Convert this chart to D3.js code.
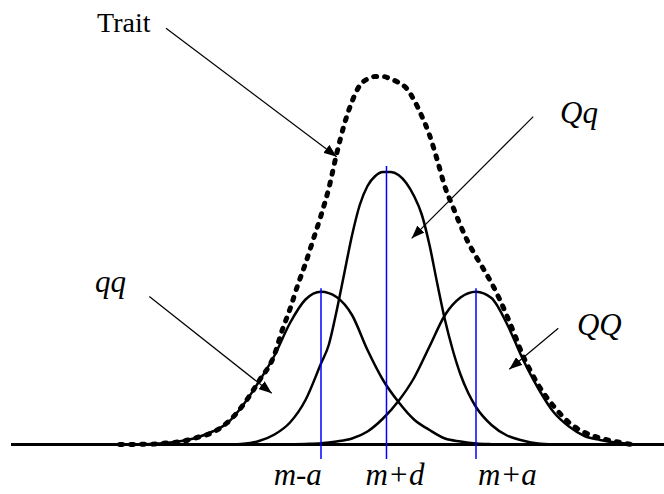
<!DOCTYPE html>
<html>
<head>
<meta charset="utf-8">
<script src="https://cdn.jsdelivr.net/npm/d3@7"></script>
<style>
  body { margin: 0; background: #fff; }
  text { font-family: "Liberation Serif", "Times New Roman", serif; fill: #000; }
  .curve { fill: none; stroke: #000; stroke-width: 2.5; }
  .trait { fill: none; stroke: #000; stroke-width: 5; stroke-dasharray: 3,8; stroke-linecap: round; }
  .mean { stroke: #0000ff; stroke-width: 1.5; }
  .arrow { stroke: #000; stroke-width: 1.2; }
</style>
</head>
<body>
<script>
// size of the picture
var width = 664,
    height = 494;

// genotype curves (x = trait value, y = frequency)
var qqX = [14, 16, 18, 20, 22, 24, 26, 28, 30, 32, 34, 36, 38, 40, 42, 44, 46, 48, 50, 52, 54, 56, 58, 60, 62, 64];
var qqY = [0, 0.01, 0.05, 0.15, 0.35, 0.7, 1.3, 2.2, 4.0, 6.3, 8.9, 12.15, 14.5, 15.28, 14.75, 12.95, 9.45, 6.45, 4.25, 2.5, 1.45, 0.6, 0.3, 0.1, 0.03, 0];

var QqX = [28, 30, 32, 34, 36, 38, 40, 41, 42, 43, 44, 45, 46, 47, 48, 49, 50, 51, 52, 53, 54, 55, 56, 57, 58, 59, 60, 62, 64, 66, 68, 70, 72];
var QqY = [0, 0.07, 0.35, 1.0, 2.2, 4.45, 8.1, 9.95, 13.3, 17.1, 20.9, 23.95, 25.85, 26.85, 27.25, 27.25, 26.95, 26.15, 24.85, 23.0, 19.95, 16.1, 12.45, 9.45, 7.0, 5.15, 3.75, 1.95, 0.9, 0.4, 0.1, 0.02, 0];

var QQX = [36, 38, 40, 42, 44, 46, 48, 50, 52, 54, 56, 58, 60, 62, 64, 66, 68, 70, 72, 74, 76, 78, 80, 82];
var QQY = [0, 0.05, 0.12, 0.3, 0.6, 1.3, 2.6, 4.35, 6.65, 9.8, 12.95, 14.7, 15.28, 14.65, 12.05, 8.6, 5.65, 3.25, 1.8, 0.85, 0.45, 0.2, 0.05, 0];

// the whole trait (dotted)
var traitX = [14, 16, 18, 20, 22, 24, 26, 28, 30, 32, 34, 35, 36, 37, 38, 39, 40, 41, 42, 43, 44, 45, 46, 47, 48, 49, 50, 51, 52, 53, 54, 55, 56, 57, 58, 59, 60, 61, 62, 63, 64, 65, 66, 67, 68, 70, 72, 74, 76, 78, 80];
var traitY = [0, 0.01, 0.03, 0.15, 0.3, 0.7, 1.2, 2.25, 4.0, 6.35, 9.0, 11.45, 13.55, 15.95, 18.1, 20.5, 22.9, 25.6, 29.0, 32.0, 34.3, 35.9, 36.55, 36.8, 36.8, 36.55, 36.2, 35.65, 34.45, 32.85, 30.95, 28.45, 25.75, 23.8, 21.9, 20.2, 18.8, 17.5, 16.15, 14.6, 12.85, 10.95, 8.98, 7.4, 6.0, 3.85, 2.2, 1.2, 0.65, 0.3, 0];

// genotype means (blue lines) and the labels under the axis
var meanNames = ["m-a", "m+d", "m+a"];
var meanX = [40, 48.45, 60];
var meanTop = [15.62, 27.85, 15.62];
var meanLabelX = [37.0, 49.55, 64.06];

// callouts: label, label position, arrow from -> to
var noteText = ["Trait", "Qq", "QQ", "qq"];
var noteItalic = [false, true, true, true];
var noteXY = [[11.1, 41.28], [70.84, 32.15], [73.03, 10.95], [10.84, 15.25]];
var arrowFrom = [[20.0, 41.62], [67.39, 32.78], [70.62, 11.62], [17.85, 14.8]];
var arrowTo = [[42.03, 28.78], [51.70, 20.62], [64.30, 7.52], [33.64, 5.12]];

var x = d3.scaleLinear().domain([0, 100]).range([11, 786]);
var y = d3.scaleLinear().domain([0, 40]).range([444.5, 44.5]);

var svg = d3.select("body")
    .append("svg")
    .attr("width", width)
    .attr("height", height);

// arrow head
svg.append("defs").append("marker")
    .attr("id", "head")
    .attr("viewBox", "0 0 13 10")
    .attr("refX", 13)
    .attr("refY", 5)
    .attr("markerWidth", 13)
    .attr("markerHeight", 10)
    .attr("markerUnits", "userSpaceOnUse")
    .attr("orient", "auto")
    .append("path")
    .attr("d", "M0,0L13,5L0,10Z")
    .attr("fill", "#000");

var line = d3.line()
    .x(function(d) { return x(d[0]); })
    .y(function(d) { return y(d[1]); })
    .curve(d3.curveMonotoneX);

// x axis as a plain thick line
svg.append("line")
    .attr("x1", x(0)).attr("x2", x(86))
    .attr("y1", y(0)).attr("y2", y(0))
    .attr("stroke", "#000")
    .attr("stroke-width", 3);

[[qqX, qqY], [QqX, QqY], [QQX, QQY]].forEach(function(s) {
    svg.append("path")
        .attr("class", "curve")
        .attr("d", line(d3.zip(s[0], s[1])));
});

svg.append("path")
    .attr("class", "trait")
    .attr("d", line(d3.zip(traitX, traitY)));

// blue lines at the genotype means
svg.selectAll(".mean")
    .data(meanX)
    .enter().append("line")
    .attr("class", "mean")
    .attr("x1", function(d) { return x(d); })
    .attr("x2", function(d) { return x(d); })
    .attr("y1", function(d, i) { return y(meanTop[i]); })
    .attr("y2", y(-1.45));

svg.selectAll(".meanlab")
    .data(meanNames)
    .enter().append("text")
    .attr("class", "meanlab")
    .attr("x", function(d, i) { return x(meanLabelX[i]); })
    .attr("y", y(-4.05))
    .attr("text-anchor", "middle")
    .attr("font-family", "Liberation Serif")
    .style("font-style", "italic")
    .style("font-size", "31px")
    .text(function(d) { return d; });

// callout arrows and their labels
svg.selectAll(".arrow")
    .data(arrowFrom)
    .enter().append("line")
    .attr("class", "arrow")
    .attr("x1", function(d) { return x(d[0]); })
    .attr("y1", function(d) { return y(d[1]); })
    .attr("x2", function(d, i) { return x(arrowTo[i][0]); })
    .attr("y2", function(d, i) { return y(arrowTo[i][1]); })
    .attr("marker-end", "url(#head)");

svg.selectAll(".note")
    .data(noteText)
    .enter().append("text")
    .attr("class", "note")
    .attr("x", function(d, i) { return x(noteXY[i][0]); })
    .attr("y", function(d, i) { return y(noteXY[i][1]); })
    .attr("font-family", "Liberation Serif")
    .style("font-style", function(d, i) { return noteItalic[i] ? "italic" : "normal"; })
    .style("font-size", function(d, i) { return noteItalic[i] ? "31px" : "28px"; })
    .text(function(d) { return d; });
</script>
</body>
</html>
